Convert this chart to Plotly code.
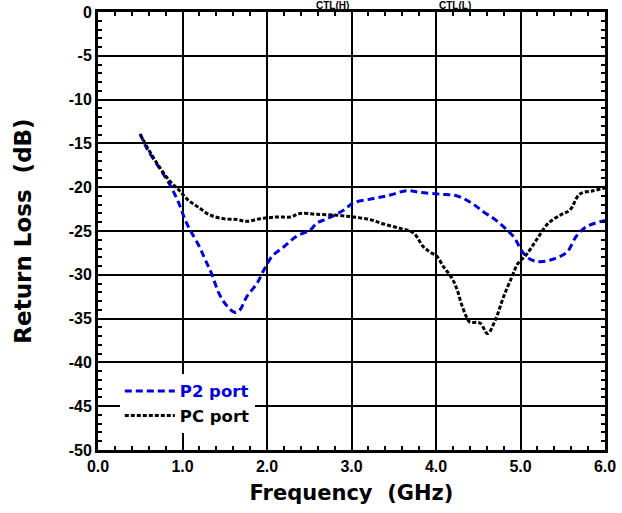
import plotly.graph_objects as go

# P2 port (blue dashed)
p2_freq = [0.50, 0.58, 0.74, 0.86, 0.955, 1.03, 1.09, 1.19, 1.27, 1.35, 1.43, 1.53, 1.625, 1.68,
           1.76, 1.88, 1.96, 2.06, 2.20, 2.35, 2.51, 2.59, 2.71, 2.91, 3.02, 3.26, 3.46, 3.65,
           3.81, 4.05, 4.25, 4.42, 4.56, 4.70, 4.82, 4.93, 5.01, 5.11, 5.23, 5.39, 5.55, 5.66,
           5.78, 6.0]
p2_db = [-13.9, -15.6, -18.0, -19.9, -21.8, -23.7, -24.9, -26.6, -28.3, -30.0, -32.1, -33.6, -34.3, -34.0,
         -32.5, -31.0, -29.5, -27.9, -26.8, -25.6, -24.9, -24.1, -23.6, -22.6, -21.8, -21.3, -20.9, -20.4,
         -20.6, -20.8, -21.0, -21.8, -22.8, -23.7, -24.7, -25.8, -27.2, -28.2, -28.5, -28.2, -27.4, -25.6,
         -24.5, -23.8]

# PC port (black short dashes)
pc_freq = [0.50, 0.58, 0.70, 0.84, 0.955, 1.07, 1.19, 1.33, 1.49, 1.645, 1.76, 1.92, 2.12, 2.275,
           2.39, 2.59, 2.83, 3.02, 3.22, 3.38, 3.575, 3.73, 3.85, 3.93, 4.01, 4.09, 4.19, 4.25,
           4.30, 4.36, 4.40, 4.52, 4.61, 4.70, 4.80, 4.90, 4.97, 5.07, 5.19, 5.33, 5.47, 5.585,
           5.70, 5.86, 6.0]
pc_db = [-14.0, -15.4, -17.3, -19.2, -20.3, -21.5, -22.3, -23.2, -23.6, -23.7, -23.9, -23.6, -23.4, -23.4,
         -23.0, -23.1, -23.2, -23.4, -23.7, -24.2, -24.7, -25.2, -26.8, -27.4, -27.9, -29.1, -30.4, -31.7,
         -33.3, -34.8, -35.4, -35.5, -36.7, -35.2, -32.5, -30.2, -28.7, -27.7, -26.0, -24.1, -23.2, -22.6,
         -20.8, -20.4, -20.1]

x_ticks = [0, 1, 2, 3, 4, 5, 6]
x_ticklabels = ["0.0", "1.0", "2.0", "3.0", "4.0", "5.0", "6.0"]
y_ticks = [0, -5, -10, -15, -20, -25, -30, -35, -40, -45, -50]
y_ticklabels = ["0", "-5", "-10", "-15", "-20", "-25", "-30", "-35", "-40", "-45", "-50"]

ctl_labels = ["CTL(H)", "CTL(L)"]
ctl_pos = [2.78, 4.22]

BLUE = "#0000dd"
FONT = "Arial, Liberation Sans, sans-serif"
WIDE = "DejaVu Sans, Verdana, sans-serif"

fig = go.Figure()
fig.add_trace(go.Scatter(
    x=p2_freq, y=p2_db, mode="lines", line_shape="spline",
    name='<span style="color:#0000dd">P2 port</span>',
    line=dict(color=BLUE, width=3, dash="7px,4px"),
))
fig.add_trace(go.Scatter(
    x=pc_freq, y=pc_db, mode="lines", line_shape="spline",
    name="PC port",
    line=dict(color="black", width=3, dash="4px,2px"),
))

axis_common = dict(
    automargin=False,
    showline=True, linecolor="black", linewidth=3, mirror="allticks",
    showgrid=True, gridcolor="black", gridwidth=2,
    ticks="inside", ticklen=5, tickwidth=2, tickcolor="black",
    zeroline=False,
    tickfont=dict(family=FONT, size=16, color="black", weight="bold"),
)

fig.update_xaxes(
    range=[0, 6], tickvals=x_ticks, ticktext=x_ticklabels,
    minor=dict(dtick=0.2, ticks="inside", ticklen=4, tickwidth=2, tickcolor="black", showgrid=False),
    title=dict(text="Frequency  (GHz)", font=dict(family=WIDE, size=21, color="black", weight="bold"),
               standoff=12),
    **axis_common,
)
fig.update_yaxes(
    range=[-50, 0], tickvals=y_ticks, ticktext=y_ticklabels,
    minor=dict(dtick=1, ticks="inside", ticklen=4, tickwidth=2, tickcolor="black", showgrid=False),
    title=dict(text="Return Loss  (dB)", font=dict(family=WIDE, size=23, color="black", weight="bold"),
               standoff=31),
    **axis_common,
)

for lab, pos in zip(ctl_labels, ctl_pos):
    fig.add_annotation(
        x=pos, xref="x", y=1, yref="paper", yanchor="bottom", yshift=0,
        text=lab, showarrow=False, borderpad=0,
        font=dict(family=FONT, size=10, color="black", weight="bold"),
    )

fig.update_layout(
    width=622, height=513,
    margin=dict(l=97.5, r=17, t=12, b=63),
    paper_bgcolor="white", plot_bgcolor="white",
    showlegend=True,
    legend=dict(
        x=0.043, y=0.174, xanchor="left", yanchor="top",
        bgcolor="white", borderwidth=0,
        font=dict(family=WIDE, size=16.5, color="black", weight="bold"),
        itemwidth=50, tracegroupgap=0,
    ),
)

fig.write_html("out.html", config={"displayModeBar": False},
               post_script="document.body.style.margin='0';")
